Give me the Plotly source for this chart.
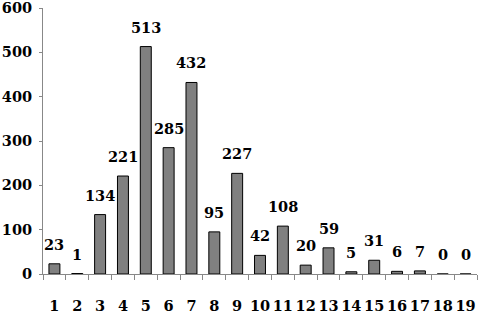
import plotly.graph_objects as go

categories = [str(i) for i in range(1, 20)]
values = [23, 1, 134, 221, 513, 285, 432, 95, 227, 42, 108, 20, 59, 5, 31, 6, 7, 0, 0]
y_ticks = [0, 100, 200, 300, 400, 500, 600]

FAMILY = "DejaVu Serif, Liberation Serif, serif"
FONT = dict(family=FAMILY, size=14.5, color="black")

fig = go.Figure()
fig.add_trace(go.Bar(
    x=categories, y=values,
    marker=dict(color="#808080", line=dict(color="black", width=1)),
    width=0.48,
))
for i, v in enumerate(values):
    fig.add_annotation(x=i, y=v, text=f"<b>{v}</b>", showarrow=False,
                       yanchor="bottom", yshift=9, font=FONT)

fig.update_layout(
    width=479, height=313,
    margin=dict(l=43, r=2, t=8, b=39, autoexpand=False),
    paper_bgcolor="white", plot_bgcolor="white",
    showlegend=False,
    font=FONT,
)
fig.update_xaxes(
    type="category", tickson="boundaries", ticks="outside", ticklen=5,
    tickcolor="#888", showline=True, linecolor="#888", linewidth=1,
    showgrid=False, tickfont=FONT, tickangle=0, automargin=False,
    tickprefix="<b>", ticksuffix="</b>", ticklabelstandoff=19,
    ticklabeloverflow="allow", range=[-0.5, 18.5],
)
fig.update_yaxes(
    range=[0, 600], tickvals=y_ticks, ticktext=[f"<b>{t}</b>" for t in y_ticks],
    ticks="outside", ticklen=3, tickcolor="#888", showline=True, linecolor="#888",
    linewidth=1, showgrid=False, zeroline=False, ticklabelstandoff=4,
    ticklabeloverflow="allow", tickfont=FONT, automargin=False,
)
fig.write_html("out.html", config={"displayModeBar": False},
               post_script="document.body.style.margin='0';")
